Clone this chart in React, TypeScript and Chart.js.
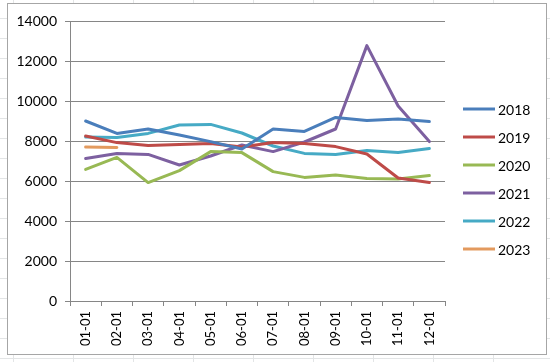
import React, { useEffect, useRef } from "react";
import { Chart, registerables } from "chart.js";

Chart.register(...registerables);

const categories = ["01-01", "02-01", "03-01", "04-01", "05-01", "06-01", "07-01", "08-01", "09-01", "10-01", "11-01", "12-01"];
const seriesNames = ["2018", "2019", "2020", "2021", "2022", "2023"];
const s2018 = [9000, 8380, 8600, 8300, 7970, 7600, 8600, 8480, 9180, 9020, 9100, 8970];
const s2019 = [8250, 7920, 7770, 7830, 7880, 7700, 7920, 7880, 7720, 7350, 6150, 5920];
const s2020 = [6580, 7180, 5920, 6520, 7470, 7420, 6470, 6180, 6300, 6130, 6100, 6270];
const s2021 = [7130, 7380, 7330, 6800, 7250, 7800, 7470, 7950, 8600, 12770, 9750, 7970];
const s2022 = [8200, 8180, 8380, 8800, 8830, 8400, 7750, 7380, 7330, 7520, 7420, 7630];
const s2023 = [7700, 7680];
const seriesColors = ["#4A7EBB", "#BE4B48", "#98B954", "#7D60A0", "#46AAC5", "#E39A5E"];
const yMin = 0;
const yMax = 14000;
const yStep = 2000;

const FONT = "Lato, 'Open Sans', sans-serif";

const legendPlugin = {
  id: "excelLegend",
  afterDraw(chart: any) {
    const ctx = chart.ctx;
    const area = chart.chartArea;
    const x0 = area.right + 18;
    ctx.save();
    ctx.font = `14px ${FONT}`;
    ctx.textBaseline = "middle";
    ctx.textAlign = "left";
    chart.data.datasets.forEach((ds: any, i: number) => {
      const y = 105 + i * 28;
      ctx.strokeStyle = ds.borderColor;
      ctx.lineWidth = 3;
      ctx.lineCap = "butt";
      ctx.beginPath();
      ctx.moveTo(x0, y);
      ctx.lineTo(x0 + 32, y);
      ctx.stroke();
      ctx.fillStyle = "#000";
      ctx.fillText(ds.label, x0 + 35, y + 1);
    });
    ctx.restore();
  },
};

export default function App() {
  const ref = useRef<HTMLCanvasElement | null>(null);

  useEffect(() => {
    if (!ref.current) return;
    const all = [s2018, s2019, s2020, s2021, s2022, s2023];
    const chart = new Chart(ref.current, {
      type: "line",
      data: {
        labels: categories,
        datasets: all.map((d, i) => ({
          label: seriesNames[i],
          data: d,
          borderColor: seriesColors[i],
          backgroundColor: seriesColors[i],
          borderWidth: 3,
          pointRadius: 0,
          tension: 0,
          fill: false,
          borderJoinStyle: "round" as const,
          borderCapStyle: "round" as const,
        })),
      },
      options: {
        animation: false,
        responsive: false,
        maintainAspectRatio: false,
        layout: { padding: { left: 0, top: 17, right: 101, bottom: 0 } },
        plugins: { legend: { display: false }, tooltip: { enabled: false } },
        scales: {
          x: {
            type: "category",
            offset: true,
            grid: {
              display: true,
              drawOnChartArea: false,
              drawTicks: true,
              tickLength: 5,
              color: "#868686",
              offset: true,
            },
            border: { display: true, color: "#868686" },
            ticks: {
              minRotation: 90,
              maxRotation: 90,
              autoSkip: false,
              padding: 5,
              color: "#000",
              font: { family: FONT, size: 13 },
            },
            afterFit: (s: any) => {
              s.height = 53;
            },
          },
          y: {
            min: yMin,
            max: yMax,
            ticks: {
              stepSize: yStep,
              padding: 8,
              color: "#000",
              font: { family: FONT, size: 14 },
              callback: (v: any) => String(v),
            },
            grid: { color: "#868686", tickLength: 5 },
            border: { display: true, color: "#868686" },
            afterFit: (s: any) => {
              s.width = 62;
            },
          },
        },
      },
      plugins: [legendPlugin],
    });
    return () => chart.destroy();
  }, []);

  return (
    <div
      style={{
        position: "absolute",
        left: 0,
        top: 0,
        width: 550,
        height: 362,
        overflow: "hidden",
        backgroundColor: "#fff",
        backgroundImage:
          "repeating-linear-gradient(to right, transparent 0px, transparent 13px, #e3e5e6 13px, #e3e5e6 14px, transparent 14px, transparent 60px), repeating-linear-gradient(to bottom, transparent 0px, transparent 18px, #e3e5e6 18px, #e3e5e6 19px, transparent 19px, transparent 20px)",
      }}
    >
      <div
        style={{
          position: "absolute",
          left: 7,
          top: 3,
          width: 538,
          height: 350,
          border: "1px solid #a6a6a6",
          background: "#fff",
        }}
      >
        <canvas ref={ref} width={538} height={350} style={{ display: "block", width: 538, height: 350 }} />
      </div>
    </div>
  );
}
